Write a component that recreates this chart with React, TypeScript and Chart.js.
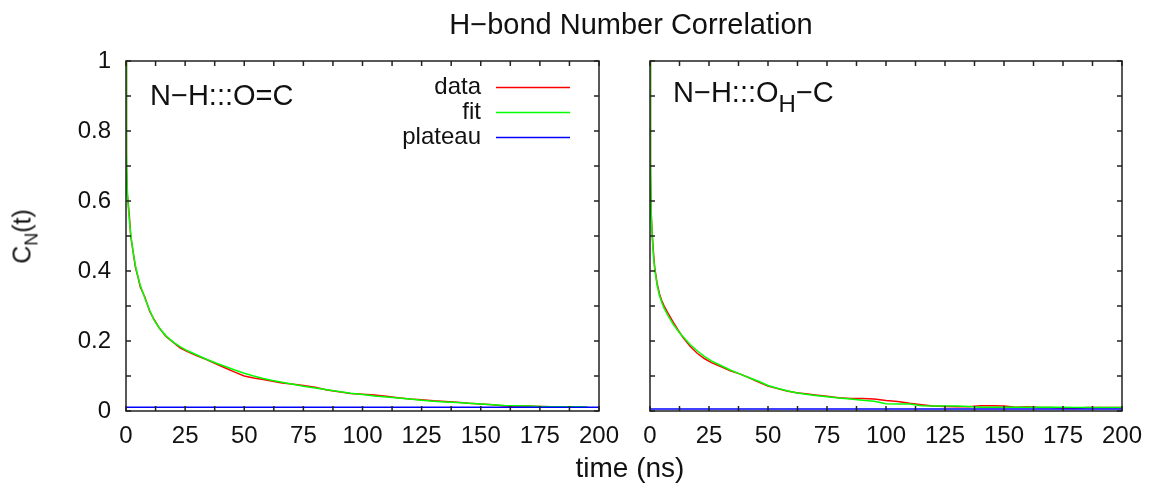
import React, { useEffect, useRef } from "react";
import { Chart, registerables } from "chart.js";

Chart.register(...registerables);

const FONT = '"Liberation Sans", Arial, Helvetica, sans-serif';
const TEXT = "#111";

// ---- Left panel: N−H:::O=C ----
const timeLeft = [0, 0.2, 0.5, 1, 1.5, 2, 3, 4, 5, 6, 8, 10, 12, 14, 17, 20, 23, 26, 30, 34, 38, 42, 46, 50, 54, 58, 62, 66, 70, 75, 80, 85, 90, 95, 100, 105, 110, 115, 120, 125, 130, 135, 140, 145, 150, 155, 160, 165, 170, 175, 180, 185, 190, 195];
const dataLeft = [1.0, 0.7, 0.62, 0.59, 0.55, 0.5, 0.455, 0.41, 0.385, 0.355, 0.325, 0.285, 0.26, 0.238, 0.212, 0.196, 0.18, 0.17, 0.158, 0.147, 0.135, 0.123, 0.111, 0.1, 0.094, 0.09, 0.085, 0.08, 0.077, 0.073, 0.068, 0.06, 0.055, 0.05, 0.048, 0.046, 0.042, 0.038, 0.034, 0.032, 0.029, 0.027, 0.025, 0.022, 0.02, 0.018, 0.014, 0.013, 0.014, 0.013, 0.012, 0.012, 0.012, 0.012];
const fitLeft = [1.0, 0.74, 0.64, 0.58, 0.54, 0.505, 0.455, 0.415, 0.385, 0.36, 0.322, 0.288, 0.258, 0.238, 0.214, 0.197, 0.183, 0.172, 0.16, 0.148, 0.137, 0.127, 0.117, 0.108, 0.1, 0.093, 0.087, 0.082, 0.077, 0.071, 0.066, 0.061, 0.056, 0.051, 0.047, 0.043, 0.04, 0.037, 0.034, 0.031, 0.028, 0.026, 0.024, 0.022, 0.02, 0.018, 0.016, 0.015, 0.014, 0.013, 0.0125, 0.012, 0.012, 0.012];
const plateauLeft = 0.011;

// ---- Right panel: N−H:::O_H−C ----
const timeRight = [0, 0.2, 0.5, 1, 1.5, 2, 3, 4, 5, 6, 8, 10, 12, 14, 17, 20, 23, 26, 30, 34, 38, 42, 46, 50, 54, 58, 62, 66, 70, 75, 80, 85, 90, 95, 100, 105, 110, 115, 120, 125, 130, 135, 140, 145, 150, 155, 160, 165, 170, 175, 180, 185, 190, 195, 200];
const dataRight = [1.0, 0.68, 0.56, 0.5, 0.45, 0.41, 0.365, 0.335, 0.315, 0.3, 0.275, 0.252, 0.23, 0.21, 0.185, 0.165, 0.15, 0.138, 0.127, 0.115, 0.106, 0.095, 0.083, 0.071, 0.064, 0.057, 0.052, 0.049, 0.046, 0.042, 0.038, 0.036, 0.036, 0.034, 0.03, 0.027, 0.022, 0.018, 0.014, 0.013, 0.012, 0.012, 0.015, 0.015, 0.014, 0.011, 0.012, 0.01, 0.01, 0.008, 0.007, 0.01, 0.01, 0.01, 0.01];
const fitRight = [1.0, 0.72, 0.57, 0.49, 0.44, 0.405, 0.36, 0.33, 0.31, 0.293, 0.268, 0.246, 0.228, 0.212, 0.19, 0.172, 0.156, 0.143, 0.13, 0.117, 0.106, 0.095, 0.085, 0.073, 0.065, 0.058, 0.052, 0.048, 0.044, 0.041, 0.037, 0.034, 0.031, 0.028, 0.021, 0.02, 0.02, 0.015, 0.014, 0.014, 0.014, 0.013, 0.011, 0.011, 0.011, 0.011, 0.011, 0.011, 0.011, 0.011, 0.01, 0.01, 0.01, 0.01, 0.01];
const plateauRight = 0.006;

const seriesLabels = ["data", "fit", "plateau"];
const seriesColors = ["#ff0000", "#00ff00", "#0000ff"];
const xTickStep = 25;
const xMinorStep = 12.5;
const yTickStep = 0.2;
const yMinorStep = 0.1;
const xRange = [0, 200];
const yRange = [0, 1];

const framePlugin = {
  id: "frameTicks",
  afterDatasetsDraw(chart: any) {
    const { ctx, chartArea, scales } = chart;
    const { left, right, top, bottom } = chartArea;
    const x = scales.x;
    const y = scales.y;
    ctx.save();
    ctx.strokeStyle = "#222";
    ctx.lineWidth = 1.5;
    ctx.beginPath();
    const tl = 5;
    for (let v = xRange[0]; v <= xRange[1] + 1e-9; v += xMinorStep) {
      const px = x.getPixelForValue(v);
      ctx.moveTo(px, bottom);
      ctx.lineTo(px, bottom - tl);
      ctx.moveTo(px, top);
      ctx.lineTo(px, top + tl);
    }
    for (let v = yRange[0]; v <= yRange[1] + 1e-9; v += yMinorStep) {
      const py = y.getPixelForValue(v);
      ctx.moveTo(left, py);
      ctx.lineTo(left + tl, py);
      ctx.moveTo(right, py);
      ctx.lineTo(right - tl, py);
    }
    ctx.stroke();
    ctx.strokeRect(left, top, right - left, bottom - top);
    ctx.restore();
  },
};

const legendPlugin = {
  id: "gnuLegend",
  afterDraw(chart: any) {
    if (!chart.options.plugins.gnuLegend || !chart.options.plugins.gnuLegend.show) return;
    const { ctx } = chart;
    const textRight = 481;
    const lineStart = 496;
    const lineEnd = 570;
    const rows = [87.5, 112.5, 137.5];
    ctx.save();
    ctx.font = `24px ${FONT}`;
    ctx.textAlign = "right";
    ctx.textBaseline = "middle";
    chart.data.datasets.forEach((ds: any, i: number) => {
      const yy = rows[i];
      ctx.fillStyle = TEXT;
      ctx.fillText(ds.label, textRight, yy);
      ctx.strokeStyle = ds.borderColor;
      ctx.lineWidth = 1.5;
      ctx.beginPath();
      ctx.moveTo(lineStart, yy);
      ctx.lineTo(lineEnd, yy);
      ctx.stroke();
    });
    ctx.restore();
  },
};

type PanelProps = {
  left: number;
  width: number;
  axisWidth: number;
  padRight: number;
  showY: boolean;
  showLegend: boolean;
  time: number[];
  data: number[];
  fit: number[];
  plateau: number;
};

function Panel(p: PanelProps) {
  const ref = useRef<HTMLCanvasElement | null>(null);
  useEffect(() => {
    if (!ref.current) return;
    const chart = new Chart(ref.current, {
      type: "line",
      data: {
        datasets: [
          {
            label: seriesLabels[0],
            data: p.time.map((t, i) => ({ x: t, y: p.data[i] })),
            borderColor: seriesColors[0],
            borderWidth: 1.5,
            pointRadius: 0,
            order: 2,
          },
          {
            label: seriesLabels[1],
            data: p.time.map((t, i) => ({ x: t, y: p.fit[i] })),
            borderColor: seriesColors[1],
            borderWidth: 1.5,
            pointRadius: 0,
            order: 1,
          },
          {
            label: seriesLabels[2],
            data: [
              { x: xRange[0], y: p.plateau },
              { x: xRange[1], y: p.plateau },
            ],
            borderColor: seriesColors[2],
            borderWidth: 1.5,
            pointRadius: 0,
            order: 0,
          },
        ],
      } as any,
      options: {
        animation: false,
        responsive: false,
        events: [],
        layout: { padding: { left: 0, top: 61, right: p.padRight, bottom: 0 } },
        plugins: {
          legend: { display: false },
          tooltip: { enabled: false },
          title: { display: false },
          gnuLegend: { show: p.showLegend },
        } as any,
        scales: {
          x: {
            type: "linear",
            min: xRange[0],
            max: xRange[1],
            grid: { display: false, drawTicks: false },
            border: { display: false },
            ticks: {
              stepSize: xTickStep,
              font: { family: FONT, size: 24 },
              color: TEXT,
              padding: 11,
              maxRotation: 0,
              autoSkip: false,
            },
            afterFit: (s: any) => {
              s.height = 78;
            },
          },
          y: {
            type: "linear",
            min: yRange[0],
            max: yRange[1],
            grid: { display: false, drawTicks: false },
            border: { display: false },
            ticks: {
              display: p.showY,
              stepSize: yTickStep,
              font: { family: FONT, size: 24 },
              color: TEXT,
              padding: 15,
              callback: (v: any) => String(Number(Number(v).toFixed(1))),
            },
            afterFit: (s: any) => {
              s.width = p.axisWidth;
            },
          },
        },
      } as any,
      plugins: [framePlugin, legendPlugin],
    });
    return () => chart.destroy();
  }, []);
  return (
    <canvas
      ref={ref}
      width={p.width}
      height={489}
      style={{ position: "absolute", left: p.left, top: 0, width: p.width, height: 489 }}
    />
  );
}

export default function App() {
  return (
    <div
      style={{
        position: "absolute",
        left: 0,
        top: 0,
        width: 1150,
        height: 489,
        background: "#fff",
        fontFamily: FONT,
        color: TEXT,
        overflow: "hidden",
      }}
    >
      <Panel left={0} width={639} axisWidth={126} padRight={40} showY={true} showLegend={true}
        time={timeLeft} data={dataLeft} fit={fitLeft} plateau={plateauLeft} />
      <Panel left={610} width={552} axisWidth={40} padRight={40} showY={false} showLegend={false}
        time={timeRight} data={dataRight} fit={fitRight} plateau={plateauRight} />

      <div style={{ position: "absolute", left: 331, width: 600, top: 10, fontSize: 29, lineHeight: "29px", textAlign: "center", whiteSpace: "nowrap" }}>
        H−bond Number Correlation
      </div>

      <div style={{ position: "absolute", left: 150, top: 81, fontSize: 29, lineHeight: "29px", whiteSpace: "nowrap" }}>
        N−H:::O=C
      </div>
      <div style={{ position: "absolute", left: 673, top: 78, fontSize: 29, lineHeight: "29px", whiteSpace: "nowrap" }}>
        N−H:::O<span style={{ fontSize: 24, lineHeight: "0px", position: "relative", top: 10 }}>H</span>−C
      </div>

      <div style={{ position: "absolute", left: 480, width: 300, top: 454, fontSize: 28, lineHeight: "28px", textAlign: "center", whiteSpace: "nowrap" }}>
        time (ns)
      </div>

      <div style={{ position: "absolute", left: -18, top: 224, width: 80, height: 25, fontSize: 25, lineHeight: "25px", textAlign: "center", whiteSpace: "nowrap", transform: "rotate(-90deg)", transformOrigin: "50% 50%" }}>
        C<span style={{ fontSize: 18, lineHeight: "0px", position: "relative", top: 7 }}>N</span>(t)
      </div>
    </div>
  );
}
